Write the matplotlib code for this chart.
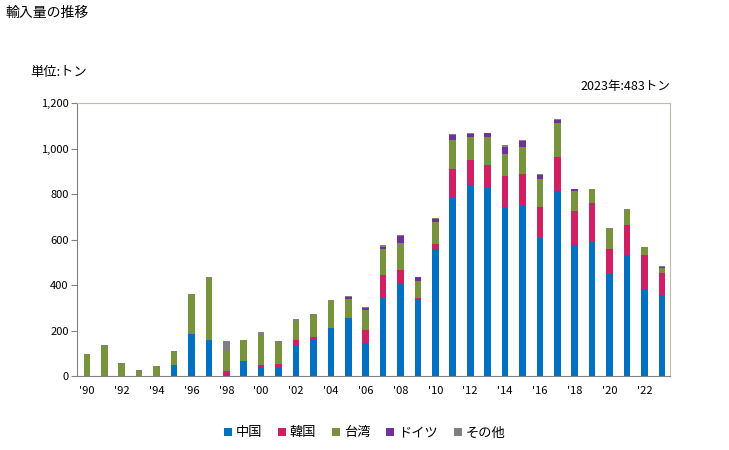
import numpy as np
import matplotlib
matplotlib.use("Agg")
import matplotlib.pyplot as plt
from matplotlib.ticker import FuncFormatter

plt.rcParams['font.family'] = ['Noto Sans CJK JP', 'DejaVu Sans']

# data: import volume (tons) by country, 1990-2023
years = list(range(1990, 2024))
china = [0, 0, 0, 0, 0, 47, 185, 158, 3, 66, 40, 40,
         136, 163, 213, 257, 145, 345, 406, 336, 556, 785, 841, 832,
         741, 750, 612, 814, 577, 591, 450, 533, 383, 354]
korea = [0, 0, 0, 0, 0, 3, 0, 0, 19, 0, 9, 13,
         23, 9, 0, 0, 59, 100, 60, 9, 26, 123, 107, 97,
         139, 139, 129, 150, 147, 170, 109, 129, 150, 100]
taiwan = [95, 134, 55, 24, 42, 57, 173, 275, 87, 91, 131, 92,
          84, 97, 116, 82, 87, 114, 119, 73, 95, 131, 101, 120,
          98, 116, 123, 147, 91, 59, 89, 66, 32, 22]
germany = [0, 0, 0, 0, 0, 0, 0, 0, 0, 0, 0, 0,
           0, 0, 0, 9, 9, 9, 32, 18, 15, 19, 13, 18,
           29, 29, 21, 16, 6, 0, 0, 0, 0, 4]
other = [2, 2, 2, 2, 2, 2, 3, 3, 45, 3, 15, 9,
         7, 3, 3, 4, 4, 9, 3, 0, 4, 4, 4, 3,
         9, 4, 4, 4, 3, 3, 4, 4, 4, 3]

series = [("中国", china, "#0070c0"),
          ("韓国", korea, "#d01f63"),
          ("台湾", taiwan, "#77933c"),
          ("ドイツ", germany, "#7030a0"),
          ("その他", other, "#808080")]

fig = plt.figure(figsize=(7.29, 4.5), dpi=100)
ax = fig.add_axes([0.1056, 0.1644, 0.8135, 0.6067])

x = np.arange(len(years))
bottom = np.zeros(len(years))
for name, vals, col in series:
    ax.bar(x, vals, 0.38, bottom=bottom, color=col, label=name)
    bottom += np.array(vals)

ax.set_xlim(-0.57, 33.47)
ax.set_ylim(0, 1200)
ax.set_yticks(range(0, 1201, 200))
ax.yaxis.set_major_formatter(FuncFormatter(lambda v, p: f"{int(v):,}"))
ax.set_xticks(x[::2])
ax.set_xticklabels(["'%02d" % (y % 100) for y in years[::2]])
ax.tick_params(axis='x', length=0, labelsize=8, pad=7)
ax.tick_params(axis='y', length=4, labelsize=8, color='#808080', pad=2)

ax.spines['left'].set_color('#808080')
ax.spines['bottom'].set_color('#808080')
ax.spines['top'].set_color('#c4bda6')
ax.spines['right'].set_color('#c4bda6')

fig.text(0.007, 0.972, "輸入量の推移", fontsize=10, va='center', ha='left')
fig.text(0.041, 0.838, "単位:トン", fontsize=9.5, va='center', ha='left')
fig.text(0.919, 0.808, "2023年:483トン", fontsize=9, va='center', ha='right')

handles, labels = ax.get_legend_handles_labels()
fig.legend(handles, labels, loc='center', bbox_to_anchor=(0.5, 0.038), ncol=5,
           frameon=False, fontsize=9.5, handlelength=0.6, handleheight=0.6,
           handletextpad=0.3, columnspacing=1.2)

fig.savefig("out.png", dpi=100)
